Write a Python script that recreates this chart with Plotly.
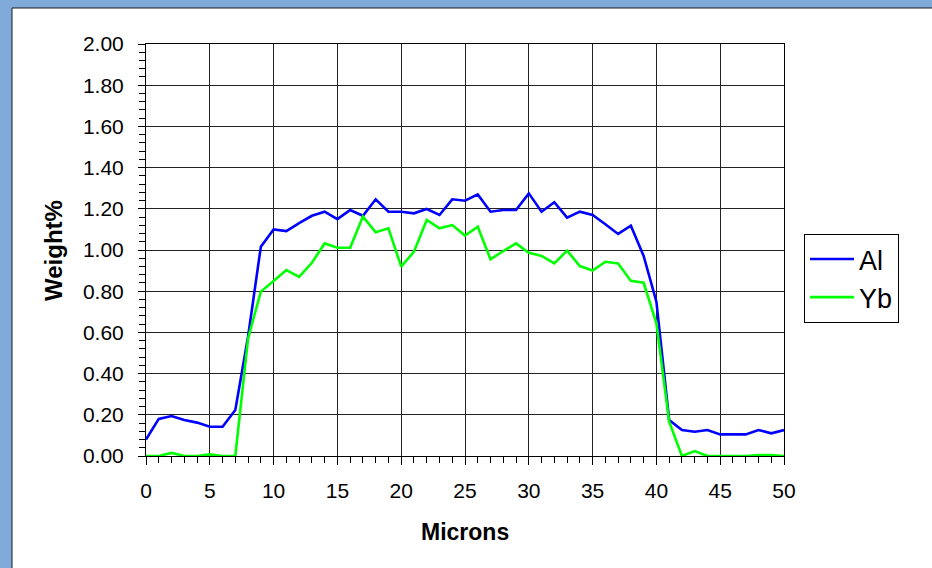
import plotly.graph_objects as go

microns = list(range(0, 51))
al = [0.08, 0.18, 0.194, 0.175, 0.162, 0.142, 0.142, 0.223, 0.58, 1.016,
      1.10, 1.092, 1.13, 1.166, 1.186, 1.15, 1.194, 1.166, 1.246, 1.186,
      1.186, 1.178, 1.199, 1.17, 1.246, 1.239, 1.27, 1.186, 1.194, 1.194,
      1.275, 1.186, 1.232, 1.157, 1.186, 1.17, 1.125, 1.078, 1.118, 0.971,
      0.749, 0.175, 0.126, 0.118, 0.126, 0.105, 0.105, 0.105, 0.126, 0.11,
      0.126]
yb = [0.0, 0.0, 0.015, 0.0, 0.0, 0.008, 0.0, 0.0, 0.571, 0.798,
      0.85, 0.903, 0.87, 0.938, 1.032, 1.011, 1.011, 1.162, 1.086, 1.105,
      0.919, 0.992, 1.146, 1.105, 1.121, 1.07, 1.113, 0.955, 0.995, 1.032,
      0.987, 0.971, 0.935, 0.997, 0.922, 0.90, 0.943, 0.935, 0.85, 0.841,
      0.644, 0.167, 0.0, 0.024, 0.0, 0.0, 0.0, 0.0, 0.005, 0.005,
      0.0]

x_ticks = [0, 5, 10, 15, 20, 25, 30, 35, 40, 45, 50]
y_ticks = [0.0, 0.2, 0.4, 0.6, 0.8, 1.0, 1.2, 1.4, 1.6, 1.8, 2.0]

FONT = "Liberation Sans, Arial, sans-serif"

fig = go.Figure()
fig.add_trace(go.Scatter(x=microns, y=al, mode="lines", name="Al",
                         line=dict(color="#0000FF", width=2.6)))
fig.add_trace(go.Scatter(x=microns, y=yb, mode="lines", name="Yb",
                         line=dict(color="#00FF00", width=2.6)))

W, H = 932, 568
L, R, T, B = 146, 784, 44, 456
pw, ph = R - L, B - T


def px_x(p):
    return (p - L) / pw


def px_y(p):
    return (B - p) / ph


fig.update_layout(
    width=W, height=H,
    margin=dict(l=L, r=W - R, t=T, b=H - B, autoexpand=False),
    paper_bgcolor="#7FAAD9",
    plot_bgcolor="white",
    font=dict(family=FONT, size=20, color="black"),
    showlegend=True,
    legend=dict(x=px_x(804), y=px_y(234), xanchor="left", yanchor="top",
                bordercolor="black", borderwidth=1, bgcolor="white",
                font=dict(size=27, family=FONT), itemwidth=44,
                tracegroupgap=0),
    xaxis=dict(range=[0, 50], tickvals=x_ticks, ticks="outside", ticklen=8,
               tickcolor="black", tickwidth=1,
               minor=dict(dtick=1, ticks="outside", ticklen=6,
                          tickcolor="black", showgrid=False),
               showgrid=True, gridcolor="#222", gridwidth=1,
               showline=True, linecolor="black", linewidth=1, mirror=True,
               zeroline=False, tickfont=dict(size=21), ticklabelstandoff=8),
    yaxis=dict(range=[0, 2], tickvals=y_ticks, tickformat=".2f",
               ticks="outside", ticklen=7, tickcolor="black", tickwidth=1,
               minor=dict(dtick=0.04, ticks="outside", ticklen=6,
                          tickcolor="black", showgrid=False),
               showgrid=True, gridcolor="#222", gridwidth=1,
               showline=True, linecolor="black", linewidth=1, mirror=True,
               zeroline=True, zerolinecolor="black", zerolinewidth=2,
               tickfont=dict(size=21), ticklabelstandoff=10),
    shapes=[
        dict(type="rect", xref="paper", yref="paper", layer="below",
             x0=px_x(12), x1=px_x(950), y0=px_y(580), y1=px_y(8),
             fillcolor="white", line=dict(color="#1a1a1a", width=1)),
    ],
    annotations=[
        dict(text="<b>Microns</b>", xref="paper", yref="paper",
             x=px_x(465), y=px_y(532), xanchor="center", yanchor="middle",
             showarrow=False, font=dict(size=23, family=FONT)),
        dict(text="<b>Weight%</b>", xref="paper", yref="paper",
             x=px_x(53), y=px_y(250), xanchor="center", yanchor="middle",
             textangle=-90, showarrow=False, font=dict(size=24, family=FONT)),
    ],
)

fig.write_html("out.html", config={"displayModeBar": False},
               post_script="document.body.style.margin='0';"
                           "document.body.style.overflow='hidden';")
